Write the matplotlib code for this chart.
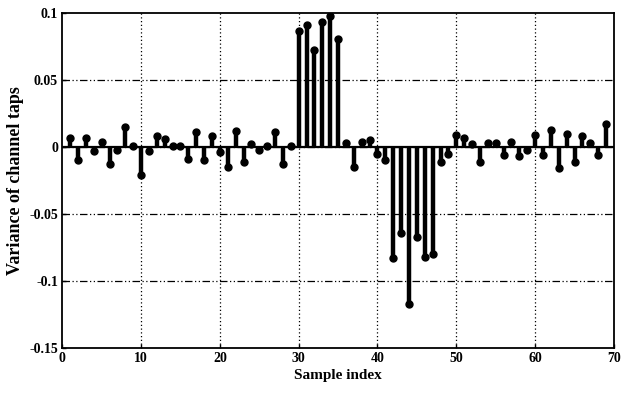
import numpy as np
import matplotlib
matplotlib.use("Agg")
import matplotlib.pyplot as plt

# sample index and estimated variance of channel taps
samples = np.arange(1, 70)
variance = [
    0.007, -0.010, 0.007, -0.003, 0.004, -0.013, -0.002, 0.015, 0.001, -0.021,
    -0.003, 0.008, 0.006, 0.001, 0.001, -0.009, 0.011, -0.010, 0.008, -0.004,
    -0.015, 0.012, -0.011, 0.002, -0.002, 0.001, 0.011, -0.013, 0.001, 0.0863,
    0.0907, 0.0725, 0.0936, 0.098, 0.0806, 0.003, -0.015, 0.004, 0.005, -0.005,
    -0.010, -0.083, -0.064, -0.117, -0.067, -0.082, -0.080, -0.011, -0.005, 0.009,
    0.007, 0.002, -0.011, 0.003, 0.003, -0.006, 0.004, -0.007, -0.002, 0.009,
    -0.006, 0.013, -0.016, 0.010, -0.011, 0.008, 0.003, -0.006, 0.017,
]
xticks = [0, 10, 20, 30, 40, 50, 60, 70]
yticks = [-0.15, -0.1, -0.05, 0, 0.05, 0.1]
ytick_labels = ["-0.15", "-0.1", "-0.05", "0", "0.05", "0.1"]

plt.rcParams['font.family'] = ['Liberation Serif', 'DejaVu Serif']

fig = plt.figure(figsize=(6.29, 3.94), dpi=100)
ax = fig.add_axes([0.099, 0.117, 0.877, 0.85])

markerline, stemlines, baseline = ax.stem(samples, variance, basefmt='k-')
plt.setp(stemlines, color='black', linewidth=3.2)
plt.setp(markerline, color='black', markersize=5)
plt.setp(baseline, color='black', linewidth=1.6)
baseline.set_xdata([0, 70])

ax.set_xlim(0, 70)
ax.set_ylim(-0.15, 0.1)
ax.set_xticks(xticks)
ax.set_yticks(yticks)
ax.set_yticklabels(ytick_labels)

# matlab style grid
for yv in yticks[1:-1]:
    ax.axhline(yv, color='black', linewidth=0.9, linestyle=(0, (6, 2, 1, 2, 1, 2)), zorder=0)
for xv in xticks[1:-1]:
    ax.axvline(xv, color='black', linewidth=0.9, linestyle=(0, (1, 2)), zorder=0)

for s in ax.spines.values():
    s.set_linewidth(1.3)
ax.tick_params(direction='in', length=3, labelsize=10, width=1, pad=3)
for lbl in ax.get_xticklabels() + ax.get_yticklabels():
    lbl.set_fontweight('bold')

ax.set_xlabel("Sample index", fontsize=11, fontweight='bold', labelpad=3)
ax.set_ylabel("Variance of channel taps", fontsize=13, fontweight='bold', labelpad=4)

fig.savefig("out.png", dpi=100)
